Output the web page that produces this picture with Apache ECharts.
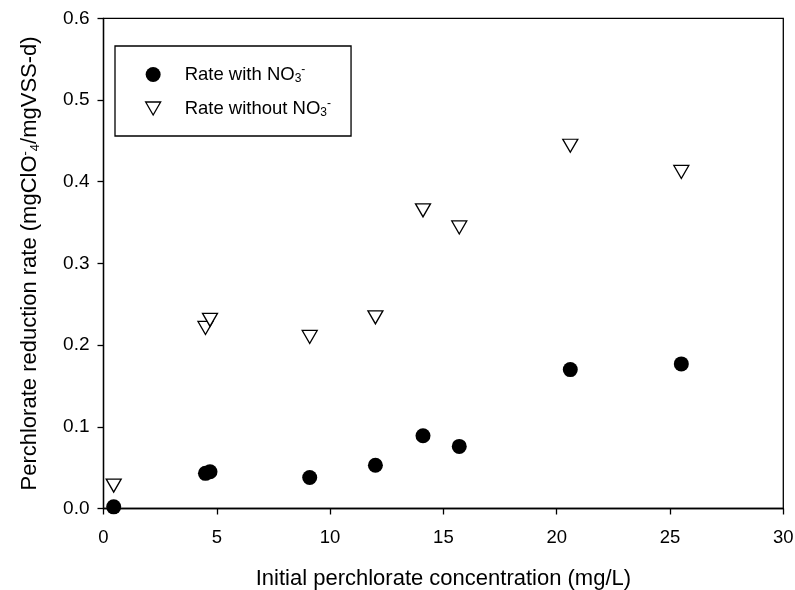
<!DOCTYPE html>
<html>
<head>
<meta charset="utf-8">
<script src="https://cdn.jsdelivr.net/npm/echarts@6/dist/echarts.min.js"></script>
<style>
  html, body { margin: 0; padding: 0; background: #fff; }
  #chart { width: 795px; height: 590px; }
</style>
</head>
<body>
<div id="chart"></div>
<script>
// Initial perchlorate concentration (mg/L)
const concentrations = [0.45, 4.5, 4.7, 9.1, 12.0, 14.1, 15.7, 20.6, 25.5];
// Perchlorate reduction rate (mgClO4-/mgVSS-d)
const rateWithNO3 = [0.002, 0.043, 0.045, 0.038, 0.053, 0.089, 0.076, 0.170, 0.177];
const rateWithoutNO3 = [0.028, 0.221, 0.231, 0.210, 0.234, 0.365, 0.344, 0.444, 0.412];
const xTicks = { min: 0, max: 30, interval: 5 };
const yTicks = { min: 0, max: 0.6, interval: 0.1 };
// legend names; the nitrate subscript/superscript is added by the legend formatter
const seriesNames = ['Rate with NO', 'Rate without NO'];

const FONT = "'Liberation Sans', Arial, Helvetica, sans-serif";
const downTriangle = 'path://M0,0 L10,0 L5,8.66 Z';

const pairs = ys => concentrations.map((x, i) => [x, ys[i]]);

const richScripts = size => ({
  sub: { fontSize: size, fontFamily: FONT, color: '#000', padding: [size * 0.75, 0, 0, 0] },
  sup: { fontSize: size, fontFamily: FONT, color: '#000', padding: [0, 0, size * 0.75, 0] }
});

const chart = echarts.init(document.getElementById('chart'), null, { renderer: 'canvas' });

chart.setOption({
  backgroundColor: '#fff',
  animation: false,
  grid: {
    left: 103.5, top: 18.3, right: 11.7, bottom: 81.5,
    outerBoundsMode: 'none',
    containLabel: false,
    show: true, borderColor: '#000', borderWidth: 1.3, backgroundColor: 'transparent'
  },
  legend: {
    orient: 'vertical',
    left: 115, top: 46,
    padding: [18, 20, 17, 30],
    itemWidth: 15, itemHeight: 15, itemGap: 13,
    borderColor: '#000', borderWidth: 1.3,
    backgroundColor: '#fff',
    data: [
      { name: seriesNames[0], icon: 'circle' },
      { name: seriesNames[1], icon: downTriangle, itemStyle: { color: '#fff', borderColor: '#000', borderWidth: 1.3 } }
    ],
    formatter: name => '{t|' + name + '}{sub|3}{sup|-}',
    textStyle: {
      fontFamily: FONT, fontSize: 18.5, color: '#000',
      rich: Object.assign({
        t: { fontFamily: FONT, fontSize: 18.5, color: '#000', padding: [0, 0, 0, 19] }
      }, richScripts(12))
    }
  },
  xAxis: {
    type: 'value',
    min: xTicks.min, max: xTicks.max, interval: xTicks.interval,
    name: 'Initial perchlorate concentration (mg/L)',
    nameLocation: 'middle', nameGap: 59,
    nameTextStyle: { fontFamily: FONT, fontSize: 22, color: '#000' },
    axisLine: { show: true, onZero: false, lineStyle: { color: '#000', width: 1.3 } },
    axisTick: { show: true, inside: false, length: 6, lineStyle: { color: '#000', width: 1.3 } },
    axisLabel: { fontFamily: FONT, fontSize: 18.5, color: '#000', margin: 20 },
    splitLine: { show: false }
  },
  yAxis: {
    type: 'value',
    min: yTicks.min, max: yTicks.max, interval: yTicks.interval,
    name: 'Perchlorate reduction rate (mgClO{sup|-}{sub|4}/mgVSS-d)',
    nameLocation: 'middle', nameGap: 62,
    nameTextStyle: {
      fontFamily: FONT, fontSize: 22, color: '#000',
      rich: richScripts(13)
    },
    axisLine: { show: true, onZero: false, lineStyle: { color: '#000', width: 1.3 } },
    axisTick: { show: true, inside: false, length: 6, lineStyle: { color: '#000', width: 1.3 } },
    axisLabel: { fontFamily: FONT, fontSize: 19, color: '#000', margin: 14, formatter: v => v.toFixed(1) },
    splitLine: { show: false }
  },
  series: [
    {
      name: seriesNames[0],
      type: 'scatter',
      data: pairs(rateWithNO3),
      symbol: 'circle',
      symbolSize: 15,
      itemStyle: { color: '#000', borderColor: '#000', borderWidth: 0, opacity: 1 },
      z: 3
    },
    {
      name: seriesNames[1],
      type: 'scatter',
      data: pairs(rateWithoutNO3),
      symbol: downTriangle,
      symbolSize: [15, 13],
      itemStyle: { color: '#fff', borderColor: '#000', borderWidth: 1.3, opacity: 1 },
      z: 4
    }
  ]
});
</script>
</body>
</html>
